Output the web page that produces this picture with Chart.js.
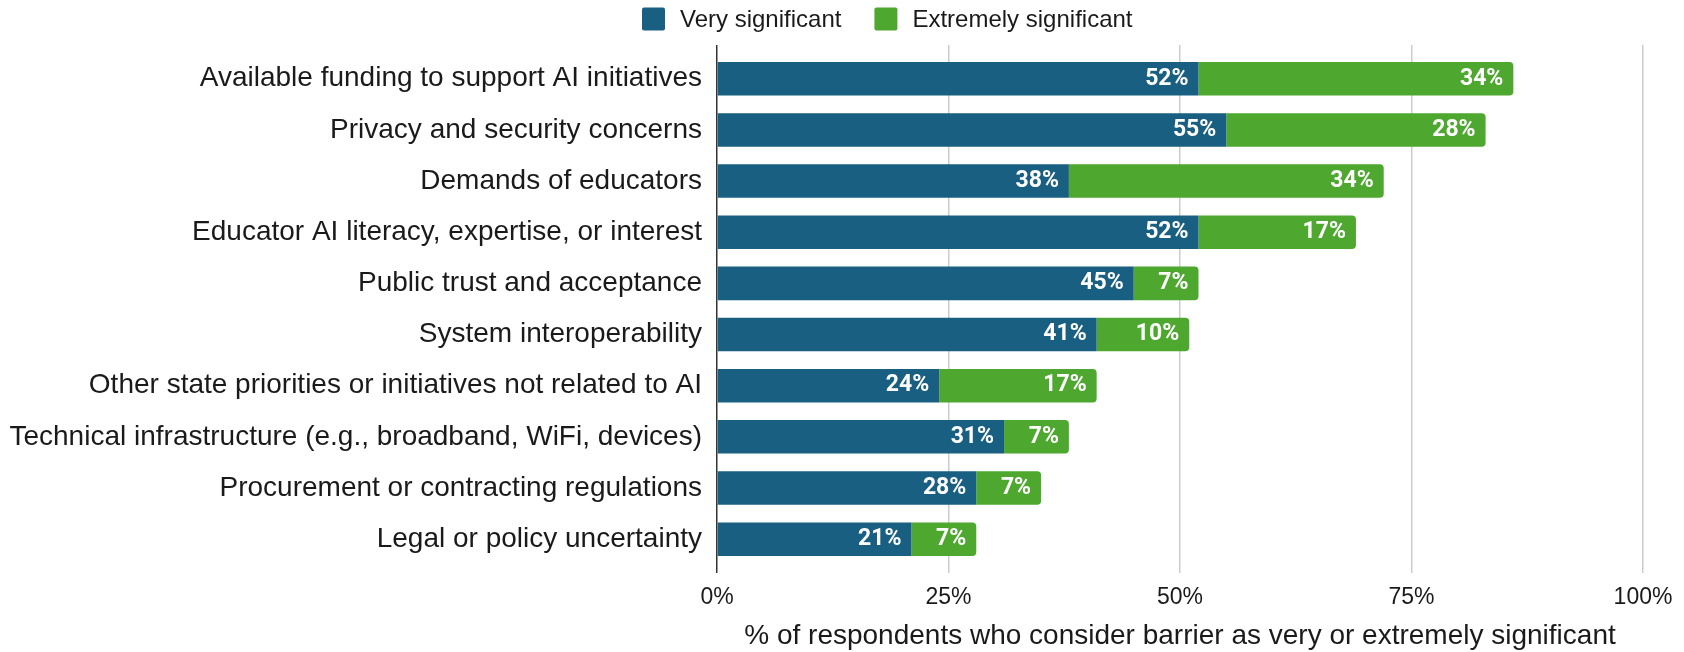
<!DOCTYPE html>
<html>
<head>
<meta charset="utf-8">
<script src="https://cdn.jsdelivr.net/npm/chart.js@4/dist/chart.umd.min.js"></script>
<style>
  html, body { margin: 0; padding: 0; background: #fff; }
  #wrap { width: 1684px; height: 652px; }
</style>
</head>
<body>
<div id="wrap"><canvas id="barChart" width="1684" height="652"></canvas></div>
<script>
const barriers = [
  "Available funding to support AI initiatives",
  "Privacy and security concerns",
  "Demands of educators",
  "Educator AI literacy, expertise, or interest",
  "Public trust and acceptance",
  "System interoperability",
  "Other state priorities or initiatives not related to AI",
  "Technical infrastructure (e.g., broadband, WiFi, devices)",
  "Procurement or contracting regulations",
  "Legal or policy uncertainty",
];
const verySignificant = [52, 55, 38, 52, 45, 41, 24, 31, 28, 21];
const extremelySignificant = [34, 28, 34, 17, 7, 10, 17, 7, 7, 7];
const xTicks = [0, 25, 50, 75, 100];

const BLUE = "#195f82";
const GREEN = "#4ea82f";
const TEXT = "#1a1a1a";
const SANS = "'Liberation Sans', Arial, sans-serif";

// white value labels, right-aligned inside the end of each segment
const valueLabels = {
  id: "valueLabels",
  afterDatasetsDraw(chart) {
    const ctx = chart.ctx;
    ctx.save();
    ctx.fillStyle = "#ffffff";
    ctx.font = "bold 23px Roboto, " + SANS;
    ctx.textAlign = "right";
    ctx.textBaseline = "middle";
    chart.data.datasets.forEach((ds, i) => {
      chart.getDatasetMeta(i).data.forEach((bar, j) => {
        ctx.fillText(ds.data[j] + "%", bar.x - 10, bar.y);
      });
    });
    ctx.restore();
  },
};

// legend row above the plot: square swatch + series name
const topLegend = {
  id: "topLegend",
  afterDraw(chart) {
    const ctx = chart.ctx;
    ctx.save();
    ctx.font = "24px " + SANS;
    ctx.textBaseline = "middle";
    ctx.textAlign = "left";
    let x = 642;
    const y = 19;
    chart.data.datasets.forEach((ds) => {
      ctx.fillStyle = ds.backgroundColor;
      ctx.beginPath();
      ctx.roundRect(x, y - 11.5, 23, 23, 2);
      ctx.fill();
      x += 23 + 15;
      ctx.fillStyle = TEXT;
      ctx.fillText(ds.label, x, y + 1);
      x += ctx.measureText(ds.label).width + 33;
    });
    ctx.restore();
  },
};

const ctx = document.getElementById("barChart").getContext("2d");
const chart = new Chart(ctx, {
  type: "bar",
  data: {
    labels: barriers,
    datasets: [
      {
        label: "Very significant",
        data: verySignificant,
        backgroundColor: BLUE,
        borderWidth: 0,
        borderRadius: 0,
      },
      {
        label: "Extremely significant",
        data: extremelySignificant,
        backgroundColor: GREEN,
        borderWidth: 0,
        borderSkipped: false,
        borderRadius: { topLeft: 0, bottomLeft: 0, topRight: 4, bottomRight: 4 },
      },
    ],
  },
  options: {
    indexAxis: "y",
    responsive: false,
    animation: false,
    events: [],
    categoryPercentage: 1,
    barPercentage: 0.655,
    layout: { padding: { top: 45, right: 41, bottom: 0, left: 0 } },
    plugins: {
      tooltip: { enabled: false },
      legend: { display: false },
    },
    scales: {
      x: {
        stacked: true,
        min: 0,
        max: 100,
        afterBuildTicks(scale) {
          scale.ticks = xTicks.map((v) => ({ value: v }));
        },
        grid: {
          color: (c) => (c.index === 0 ? "#333333" : "#cccccc"),
          lineWidth: 1.5,
          drawTicks: false,
        },
        border: { display: false },
        ticks: {
          padding: 11,
          color: TEXT,
          font: { family: SANS, size: 23 },
          callback: (v) => v + "%",
        },
        title: {
          display: true,
          text: "% of respondents who consider barrier as very or extremely significant",
          color: TEXT,
          font: { family: SANS, size: 28, lineHeight: 1 },
          padding: { top: 0, bottom: 1.5 },
        },
      },
      y: {
        stacked: true,
        // let the grid run a little past the first and last bar
        afterBuildTicks(scale) {
          const extra = 0.16;
          scale._startValue -= extra;
          scale._valueRange += 2 * extra;
        },
        grid: { display: false, drawTicks: false },
        border: { display: false },
        afterFit(scale) {
          scale.width = 717;
        },
        ticks: {
          padding: 15,
          color: TEXT,
          font: { family: SANS, size: 28 },
        },
      },
    },
  },
  plugins: [valueLabels, topLegend],
});
</script>
</body>
</html>
